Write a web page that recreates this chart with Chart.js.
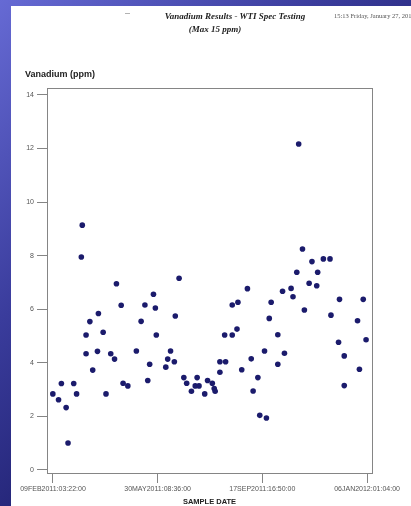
<!DOCTYPE html>
<html>
<head>
<meta charset="utf-8">
<script src="https://cdn.jsdelivr.net/npm/chart.js@4.4.1/dist/chart.umd.min.js"></script>
<style>
body {
    margin: 0;
    width: 411px;
    height: 506px;
    overflow: hidden;
    position: relative;
    background: linear-gradient(135deg, #666ad4 0%, #3a3c9c 35%, #15155e 75%, #0c0c48 100%);
}
.folha {
    position: absolute;
    left: 11px;
    top: 6px;
    width: 400px;
    height: 500px;
    background: #fff;
}
.folha canvas {
    position: absolute;
    left: 0;
    top: 0;
}
.titulo {
    position: absolute;
    font-family: "Liberation Serif", "DejaVu Serif", serif;
    font-weight: bold;
    font-style: italic;
    font-size: 9px;
    line-height: 10px;
    color: #222;
    white-space: nowrap;
    transform: translateX(-50%);
}
.hora {
    position: absolute;
    left: 323px;
    top: 6px;
    font-family: "Liberation Serif", serif;
    font-size: 6.5px;
    line-height: 8px;
    color: #555;
    white-space: nowrap;
}
.traco {
    position: absolute;
    left: 114px;
    top: 2px;
    font-family: "Liberation Sans", sans-serif;
    font-size: 9px;
    line-height: 10px;
    color: #888;
}
.eixoY {
    position: absolute;
    left: 14px;
    top: 62px;
    font-family: "Liberation Sans", Arial, sans-serif;
    font-weight: bold;
    font-size: 9px;
    line-height: 12px;
    color: #222;
    white-space: nowrap;
}
</style>
</head>
<body>
<div class="folha">
    <canvas id="myChart" width="400" height="500"></canvas>
    <div class="traco">–</div>
    <div class="titulo" style="left:224px; top:5px">Vanadium Results - WTI Spec Testing</div>
    <div class="titulo" style="left:204px; top:18px">(Max 15 ppm)</div>
    <div class="hora">15:13 Friday, January 27, 2012</div>
    <div class="eixoY">Vanadium (ppm)</div>
</div>
<script>
// ticks do eixo X (datas SAS) e do eixo Y
const tickDates = ['2011-02-09T03:22:00Z', '2011-05-30T08:36:00Z', '2011-09-17T16:50:00Z', '2012-01-06T01:04:00Z']
const tickLabels = ['09FEB2011:03:22:00', '30MAY2011:08:36:00', '17SEP2011:16:50:00', '06JAN2012:01:04:00']
const yTicks = [0, 2, 4, 6, 8, 10, 12, 14]

// amostras
const sampleDates = [
    '2011-02-09', '2011-02-15', '2011-02-18', '2011-02-23', '2011-02-25', '2011-03-03', '2011-03-06', '2011-03-12',
    '2011-03-11', '2011-03-16', '2011-03-16', '2011-03-20', '2011-03-23', '2011-03-28', '2011-03-29', '2011-04-03',
    '2011-04-06', '2011-04-11', '2011-04-15', '2011-04-17', '2011-04-22', '2011-04-24', '2011-04-29', '2011-05-08',
    '2011-05-13', '2011-05-17', '2011-05-20', '2011-05-22', '2011-05-26', '2011-05-28', '2011-05-29', '2011-06-08',
    '2011-06-10', '2011-06-13', '2011-06-17', '2011-06-18', '2011-06-22', '2011-06-27', '2011-06-30', '2011-07-05',
    '2011-07-09', '2011-07-11', '2011-07-13', '2011-07-19', '2011-07-22', '2011-07-27', '2011-07-29', '2011-07-30',
    '2011-08-04', '2011-08-04', '2011-08-10', '2011-08-09', '2011-08-17', '2011-08-22', '2011-08-17', '2011-08-23',
    '2011-08-27', '2011-09-02', '2011-09-06', '2011-09-08', '2011-09-13', '2011-09-15', '2011-09-22', '2011-09-20',
    '2011-09-25', '2011-09-27', '2011-10-04', '2011-10-04', '2011-10-09', '2011-10-11', '2011-10-18', '2011-10-20',
    '2011-10-24', '2011-10-26', '2011-10-30', '2011-11-01', '2011-11-06', '2011-11-09', '2011-11-14', '2011-11-15',
    '2011-11-21', '2011-11-28', '2011-11-29', '2011-12-07', '2011-12-08', '2011-12-13', '2011-12-13', '2011-12-27',
    '2011-12-29', '2012-01-02', '2012-01-05'
]
const vanadium = [
    2.84, 2.62, 3.23, 2.33, 1.01, 3.23, 2.84, 9.14,
    7.95, 5.04, 4.34, 5.54, 3.73, 4.43, 5.84, 5.14,
    2.84, 4.34, 4.14, 6.95, 6.15, 3.24, 3.14, 4.44,
    5.55, 6.16, 3.34, 3.95, 6.56, 6.05, 5.04, 3.84,
    4.14, 4.44, 4.04, 5.75, 7.16, 3.45, 3.24, 2.94,
    3.14, 3.45, 3.14, 2.84, 3.34, 3.24, 3.04, 2.94,
    4.04, 3.65, 4.04, 5.04, 5.04, 5.26, 6.16, 6.26,
    3.74, 6.77, 4.15, 2.95, 3.45, 2.04, 1.94, 4.44,
    5.66, 6.26, 3.95, 5.05, 6.67, 4.36, 6.78, 6.47,
    7.38, 12.17, 8.25, 5.97, 6.97, 7.78, 6.88, 7.38,
    7.88, 7.88, 5.78, 4.77, 6.37, 3.15, 4.26, 5.57,
    3.76, 6.37, 4.86
]

const DAY = 86400000
const t0 = Date.parse(tickDates[0])

function emDias(s) {
    return (Date.parse(s) - t0) / DAY
}

const tickDias = tickDates.map(emDias)
const pontos = sampleDates.map((d, i) => ({ x: emDias(d + 'T00:00:00Z'), y: vanadium[i] }))

// moldura em volta da area do grafico
const moldura = {
    id: 'moldura',
    afterDraw(chart) {
        const { ctx, chartArea } = chart
        ctx.save()
        ctx.strokeStyle = '#858585'
        ctx.lineWidth = 1
        ctx.strokeRect(chartArea.left + 0.5, chartArea.top + 0.5,
            chartArea.right - chartArea.left, chartArea.bottom - chartArea.top)
        ctx.restore()
    }
}

const tickFont = { family: '"Liberation Sans", Arial, sans-serif', size: 7 }

const config = {
    type: 'scatter',
    data: {
        datasets: [{
            label: 'Vanadium (ppm)',
            data: pontos,
            backgroundColor: '#1b1b6c',
            borderWidth: 0,
            pointRadius: 2.8
        }]
    },
    options: {
        responsive: false,
        animation: false,
        devicePixelRatio: 1,
        layout: { padding: { top: 82, right: 39, left: 0, bottom: 0 } },
        plugins: {
            legend: { display: false },
            tooltip: { enabled: false }
        },
        scales: {
            x: {
                type: 'linear',
                min: -6.3,
                max: 336.1,
                afterBuildTicks: (axis) => {
                    axis.ticks = tickDias.map(v => ({ value: v }))
                },
                afterFit: (axis) => {
                    axis.height = 33
                },
                border: { display: false },
                grid: { drawOnChartArea: false, drawTicks: true, tickLength: 10, color: '#858585' },
                ticks: {
                    autoSkip: false,
                    maxRotation: 0,
                    padding: 2,
                    color: '#555',
                    font: tickFont,
                    callback: (v, i) => tickLabels[i]
                },
                title: {
                    display: true,
                    text: 'SAMPLE DATE',
                    color: '#222',
                    padding: { top: 0, bottom: 0 },
                    font: { family: '"Liberation Sans", Arial, sans-serif', size: 7.5, weight: 'bold' }
                }
            },
            y: {
                min: -0.112,
                max: 14.26,
                afterBuildTicks: (axis) => {
                    axis.ticks = yTicks.map(v => ({ value: v }))
                },
                afterFit: (axis) => {
                    axis.width = 36
                },
                border: { display: false },
                grid: { drawOnChartArea: false, drawTicks: true, tickLength: 10, color: '#858585' },
                ticks: {
                    padding: 3,
                    color: '#555',
                    font: tickFont
                }
            }
        }
    },
    plugins: [moldura]
}

const myChart = new Chart(document.getElementById('myChart'), config)
</script>
</body>
</html>
